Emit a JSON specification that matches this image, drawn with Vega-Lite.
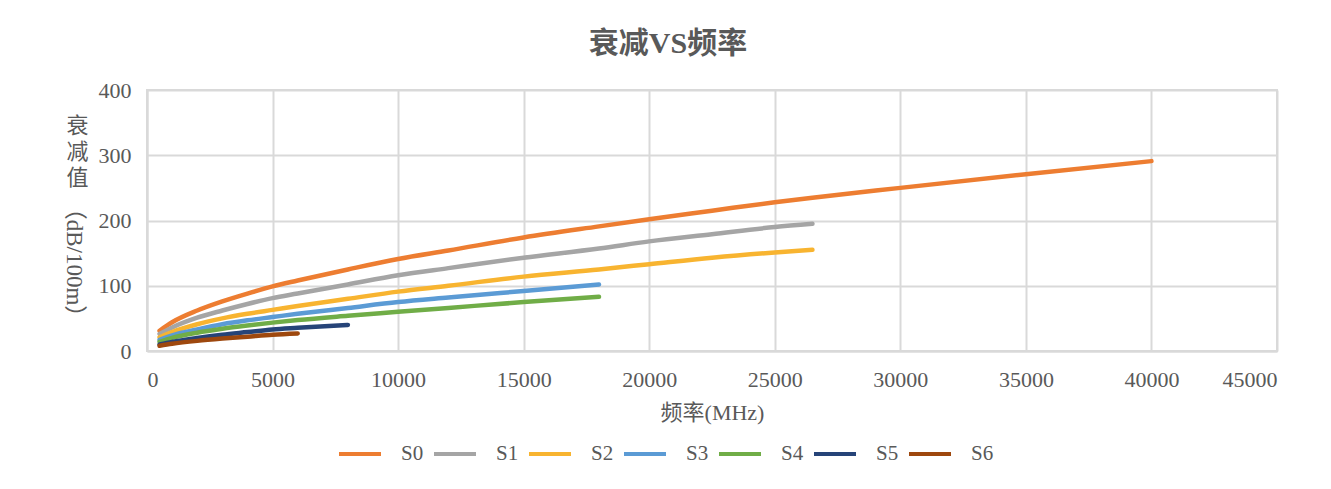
{
  "$schema": "https://vega.github.io/schema/vega-lite/v6.json",
  "autosize": "none",
  "width": 1130,
  "height": 261,
  "padding": {"left": 147, "top": 90, "right": 54, "bottom": 138},
  "background": "white",
  "title": {
    "text": "衰减VS频率",
    "fontSize": 30,
    "fontWeight": "bold",
    "font": "Liberation Serif, Noto Sans CJK SC",
    "color": "#595959",
    "anchor": "middle",
    "dx": -44,
    "offset": 20
  },
  "data": {
    "values": [
      {"s": "S0", "f": 500, "a": 31}, {"s": "S0", "f": 1000, "a": 44}, {"s": "S0", "f": 2000, "a": 62}, {"s": "S0", "f": 3000, "a": 76}, {"s": "S0", "f": 4000, "a": 88}, {"s": "S0", "f": 5000, "a": 99}, {"s": "S0", "f": 6000, "a": 108}, {"s": "S0", "f": 8000, "a": 125}, {"s": "S0", "f": 10000, "a": 141}, {"s": "S0", "f": 12000, "a": 154}, {"s": "S0", "f": 15000, "a": 174}, {"s": "S0", "f": 18000, "a": 191}, {"s": "S0", "f": 20000, "a": 202}, {"s": "S0", "f": 22500, "a": 215}, {"s": "S0", "f": 25000, "a": 228}, {"s": "S0", "f": 26500, "a": 235}, {"s": "S0", "f": 30000, "a": 250}, {"s": "S0", "f": 35000, "a": 271}, {"s": "S0", "f": 40000, "a": 291},
      {"s": "S1", "f": 500, "a": 26}, {"s": "S1", "f": 1000, "a": 36}, {"s": "S1", "f": 2000, "a": 51}, {"s": "S1", "f": 3000, "a": 62}, {"s": "S1", "f": 4000, "a": 72}, {"s": "S1", "f": 5000, "a": 81}, {"s": "S1", "f": 6000, "a": 88}, {"s": "S1", "f": 8000, "a": 102}, {"s": "S1", "f": 10000, "a": 116}, {"s": "S1", "f": 12000, "a": 127}, {"s": "S1", "f": 15000, "a": 143}, {"s": "S1", "f": 18000, "a": 157}, {"s": "S1", "f": 20000, "a": 168}, {"s": "S1", "f": 22500, "a": 179}, {"s": "S1", "f": 25000, "a": 190}, {"s": "S1", "f": 26500, "a": 195},
      {"s": "S2", "f": 500, "a": 21}, {"s": "S2", "f": 1000, "a": 29}, {"s": "S2", "f": 2000, "a": 41}, {"s": "S2", "f": 3000, "a": 50}, {"s": "S2", "f": 4000, "a": 57}, {"s": "S2", "f": 5000, "a": 63}, {"s": "S2", "f": 6000, "a": 69}, {"s": "S2", "f": 8000, "a": 80}, {"s": "S2", "f": 10000, "a": 91}, {"s": "S2", "f": 12000, "a": 100}, {"s": "S2", "f": 15000, "a": 114}, {"s": "S2", "f": 18000, "a": 125}, {"s": "S2", "f": 20000, "a": 133}, {"s": "S2", "f": 22500, "a": 143}, {"s": "S2", "f": 25000, "a": 151}, {"s": "S2", "f": 26500, "a": 155},
      {"s": "S3", "f": 500, "a": 17}, {"s": "S3", "f": 1000, "a": 24}, {"s": "S3", "f": 2000, "a": 33}, {"s": "S3", "f": 3000, "a": 41}, {"s": "S3", "f": 4000, "a": 47}, {"s": "S3", "f": 5000, "a": 52}, {"s": "S3", "f": 6000, "a": 57}, {"s": "S3", "f": 8000, "a": 66}, {"s": "S3", "f": 10000, "a": 75}, {"s": "S3", "f": 12000, "a": 82}, {"s": "S3", "f": 15000, "a": 92}, {"s": "S3", "f": 18000, "a": 102},
      {"s": "S4", "f": 500, "a": 14}, {"s": "S4", "f": 1000, "a": 20}, {"s": "S4", "f": 2000, "a": 28}, {"s": "S4", "f": 3000, "a": 34}, {"s": "S4", "f": 4000, "a": 39}, {"s": "S4", "f": 5000, "a": 43.5}, {"s": "S4", "f": 6000, "a": 47.5}, {"s": "S4", "f": 8000, "a": 54}, {"s": "S4", "f": 10000, "a": 60}, {"s": "S4", "f": 12000, "a": 66}, {"s": "S4", "f": 15000, "a": 75}, {"s": "S4", "f": 18000, "a": 83},
      {"s": "S5", "f": 500, "a": 10}, {"s": "S5", "f": 1000, "a": 14}, {"s": "S5", "f": 2000, "a": 20}, {"s": "S5", "f": 3000, "a": 25}, {"s": "S5", "f": 4000, "a": 29}, {"s": "S5", "f": 5000, "a": 33}, {"s": "S5", "f": 6000, "a": 35.5}, {"s": "S5", "f": 8000, "a": 40},
      {"s": "S6", "f": 500, "a": 8}, {"s": "S6", "f": 1000, "a": 11}, {"s": "S6", "f": 2000, "a": 15.5}, {"s": "S6", "f": 3000, "a": 19}, {"s": "S6", "f": 4000, "a": 22}, {"s": "S6", "f": 5000, "a": 25}, {"s": "S6", "f": 6000, "a": 27}
    ]
  },
  "layer": [
    {
      "mark": {"type": "line", "strokeWidth": 4.5, "strokeCap": "round", "interpolate": "monotone"},
      "encoding": {
        "x": {
          "field": "f", "type": "quantitative",
          "scale": {"domain": [0, 45000], "nice": false},
          "axis": {
            "values": [0, 5000, 10000, 15000, 20000, 25000, 30000, 35000, 40000, 45000],
            "format": "d",
            "title": "频率(MHz)",
            "titlePadding": 12
          }
        },
        "y": {
          "field": "a", "type": "quantitative",
          "scale": {"domain": [0, 400], "nice": false},
          "axis": {
            "values": [0, 100, 200, 300, 400],
            "title": ["衰", "减", "值"],
            "titleAngle": 0,
            "titleX": -70,
            "titleY": 25,
            "titleAlign": "center",
            "titleBaseline": "top",
            "titleLineHeight": 26
          }
        },
        "color": {
          "field": "s", "type": "nominal",
          "scale": {
            "domain": ["S0", "S1", "S2", "S3", "S4", "S5", "S6"],
            "range": ["#ED7D31", "#A5A5A5", "#F8B430", "#5B9BD5", "#70AD47", "#264478", "#9E480E"]
          },
          "legend": {
            "title": null,
            "orient": "none",
            "direction": "horizontal",
            "legendX": 190,
            "legendY": 341,
            "symbolType": "stroke",
            "symbolSize": 1764,
            "symbolStrokeWidth": 4,
            "labelOffset": 18,
            "columnPadding": 2,
            "labelFontSize": 21,
            "labelFont": "Liberation Serif",
            "labelColor": "#595959"
          }
        }
      }
    },
    {
      "mark": {"type": "point", "opacity": 0},
      "encoding": {
        "x": {"field": "f", "type": "quantitative"},
        "y": {
          "field": "a", "type": "quantitative",
          "scale": {"domain": [0, 400], "nice": false},
          "axis": {
            "orient": "left",
            "labels": false,
            "ticks": false,
            "domain": false,
            "grid": false,
            "title": "（dB/100m）",
            "titleFontSize": 23,
            "titleAngle": 90,
            "titleX": -74,
            "titleY": 172,
            "titleAlign": "center",
            "titleBaseline": "middle"
          }
        }
      }
    }
  ],
  "resolve": {"scale": {"y": "independent"}, "axis": {"y": "independent"}},
  "config": {
    "view": {"stroke": "#D9D9D9", "strokeWidth": 2},
    "axis": {
      "labelFont": "Liberation Serif",
      "labelFontSize": 22,
      "labelColor": "#595959",
      "titleFont": "Liberation Serif, Noto Sans CJK SC",
      "titleFontSize": 22,
      "titleFontWeight": "normal",
      "titleColor": "#595959",
      "gridColor": "#D9D9D9",
      "gridWidth": 2,
      "domainColor": "#D9D9D9",
      "domainWidth": 2,
      "ticks": false,
      "labelPadding": 14
    },
    "axisY": {"labelPadding": 16},
    "axisX": {"labelPadding": 18}
  }
}
